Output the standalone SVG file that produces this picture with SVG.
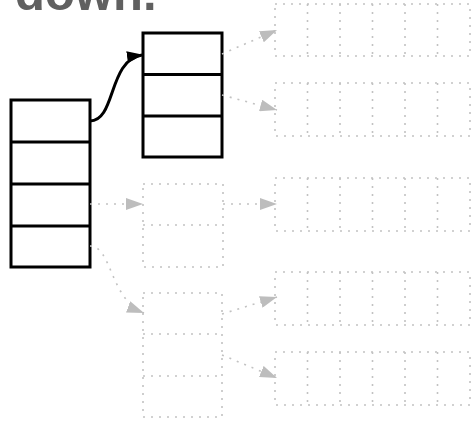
<svg xmlns="http://www.w3.org/2000/svg" width="471" height="422" viewBox="0 0 471 422">
<defs>
<style>
.solid{fill:#fff;stroke:#000;stroke-width:3}
.dot{fill:none;stroke:#c2c2c2;stroke-width:1.6;stroke-dasharray:2 6}
.blk{fill:none;stroke:#000;stroke-width:3}
.title{font-family:"Liberation Sans",Arial,sans-serif;font-weight:bold;font-size:49px;fill:#606060}
</style>
<marker id="ah" viewBox="0 0 16 12" refX="15" refY="6" markerWidth="16" markerHeight="12" markerUnits="userSpaceOnUse" orient="auto"><path d="M0,0 L16,6 L0,12 z" fill="#000"/></marker>
<marker id="gh" viewBox="0 0 17 12" refX="17" refY="6" markerWidth="17" markerHeight="12" markerUnits="userSpaceOnUse" orient="auto"><path d="M0,0 L17,6 L0,12 z" fill="#bdbdbd"/></marker>
</defs>
<text class="title" x="15" y="10">down.</text>
<g id="node-main">
<rect class="solid" x="11" y="100" width="79" height="167"/>
<path class="blk" d="M11,142 H90 M11,184 H90 M11,226 H90"/>
</g>
<g id="node-top">
<rect class="solid" x="143" y="33" width="79" height="124"/>
<path class="blk" d="M143,74.5 H222 M143,116 H222"/>
</g>
<g id="node-a">
<rect class="dot" x="143" y="184" width="80" height="83"/>
<path class="dot" d="M143,225 H223"/>
</g>
<g id="node-b">
<rect class="dot" x="143" y="293" width="79" height="124"/>
<path class="dot" d="M143,334 H222 M143,376 H222"/>
</g>
<g id="array-1">
<rect class="dot" x="275" y="4" width="195" height="52"/>
<path class="dot" d="M307.5,4 V56 M340,4 V56 M372.5,4 V56 M405,4 V56 M437.5,4 V56"/>
</g>
<g id="array-2">
<rect class="dot" x="275" y="83" width="195" height="53"/>
<path class="dot" d="M307.5,83 V136 M340,83 V136 M372.5,83 V136 M405,83 V136 M437.5,83 V136"/>
</g>
<g id="array-3">
<rect class="dot" x="275" y="178" width="195" height="53"/>
<path class="dot" d="M307.5,178 V231 M340,178 V231 M372.5,178 V231 M405,178 V231 M437.5,178 V231"/>
</g>
<g id="array-4">
<rect class="dot" x="275" y="272" width="195" height="53"/>
<path class="dot" d="M307.5,272 V325 M340,272 V325 M372.5,272 V325 M405,272 V325 M437.5,272 V325"/>
</g>
<g id="array-5">
<rect class="dot" x="275" y="352" width="195" height="53"/>
<path class="dot" d="M307.5,352 V405 M340,352 V405 M372.5,352 V405 M405,352 V405 M437.5,352 V405"/>
</g>
<g id="connectors">
<path class="blk" d="M90,121 C116,121 108,60 142,55" marker-end="url(#ah)"/>
<path class="dot" d="M222,54 L277,30" marker-end="url(#gh)"/>
<path class="dot" d="M222,95 L277,110" marker-end="url(#gh)"/>
<path class="dot" d="M90,204 L143,204" marker-end="url(#gh)"/>
<path class="dot" d="M223,204 L277,204" marker-end="url(#gh)"/>
<path class="dot" d="M90,246 C112,246 110,300 144,313" marker-end="url(#gh)"/>
<path class="dot" d="M222,314 L277,297" marker-end="url(#gh)"/>
<path class="dot" d="M222,355 L277,378" marker-end="url(#gh)"/>
</g>
</svg>
